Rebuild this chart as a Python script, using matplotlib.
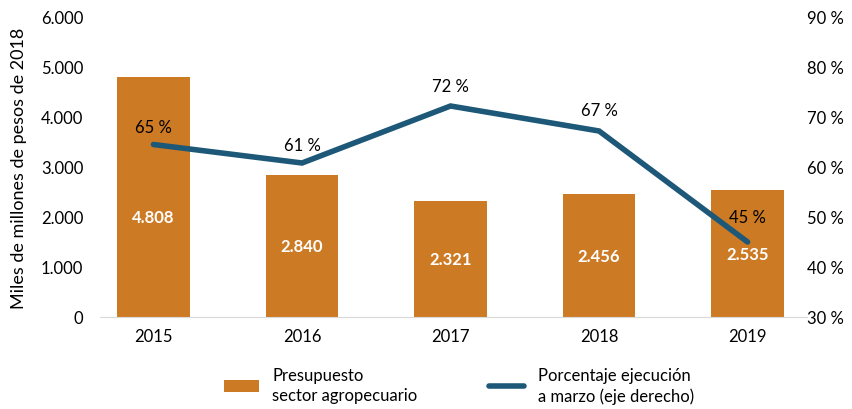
import matplotlib
matplotlib.use("Agg")
import matplotlib.pyplot as plt
from matplotlib.patches import Patch
from matplotlib.lines import Line2D

years = ["2015", "2016", "2017", "2018", "2019"]
presupuesto = [4808, 2840, 2321, 2456, 2535]
ejecucion = [64.5, 60.8, 72.2, 67.2, 45.0]
left_ticks = [0, 1000, 2000, 3000, 4000, 5000, 6000]
right_ticks = [30, 40, 50, 60, 70, 80, 90]

# label offsets above line points (points), layout only
pct_label_offsets = [7, 7, 9, 9, 12]

BAR = "#CD7A25"
LINE = "#1D5878"
plt.rcParams['font.family'] = ['Lato', 'DejaVu Sans']

def fmt_thousands(v):
    return f"{v:,.0f}".replace(",", ".")

fig = plt.figure(figsize=(8.53, 4.10), dpi=100)
ax = fig.add_axes([100/853, 92/410, 707/853, 300/410])
x = list(range(len(years)))
ax.bar(x, presupuesto, width=0.49, color=BAR, zorder=2)
ax.set_xlim(-0.36, 4.40)
ax.set_ylim(0, 6000)
ax.set_yticks(left_ticks)
ax.set_yticklabels([fmt_thousands(v) for v in left_ticks])
ax.set_xticks(x)
ax.set_xticklabels(years)
ax.tick_params(axis='both', length=0, labelsize=12, colors='#000000')
ax.tick_params(axis='x', pad=8)
ax.tick_params(axis='y', pad=12)
for s in ['top', 'right', 'left']:
    ax.spines[s].set_visible(False)
ax.spines['bottom'].set_color('#D9D9D9')
ax.set_ylabel("Miles de millones de pesos de 2018", fontsize=13, labelpad=10)

for xi, v in zip(x, presupuesto):
    ax.text(xi, min(v / 2, 2000), fmt_thousands(v), ha='center', va='center',
            color='white', fontsize=12, fontweight='bold', zorder=4)

ax2 = ax.twinx()
ax2.set_ylim(30, 90)
ax2.set_yticks(right_ticks)
ax2.set_yticklabels([f"{v} %" for v in right_ticks])
ax2.tick_params(axis='y', length=0, labelsize=12, pad=0)
for s in ['top', 'right', 'left', 'bottom']:
    ax2.spines[s].set_visible(False)
ax2.plot(x, ejecucion, color=LINE, lw=4, solid_capstyle='round',
         solid_joinstyle='miter', zorder=3)
for xi, v, off in zip(x, ejecucion, pct_label_offsets):
    ax2.annotate(f"{int(v + 0.5)} %", (xi, v), xytext=(0, off), textcoords='offset points',
                 ha='center', va='bottom', fontsize=12, color='#000000')

handles = [Patch(facecolor=BAR, edgecolor='none'),
           Line2D([0], [0], color=LINE, lw=4, solid_capstyle='round')]
labels = ["Presupuesto\nsector agropecuario", "Porcentaje ejecución\na marzo (eje derecho)"]
leg = fig.legend(handles, labels, loc='center', bbox_to_anchor=(0.538, 0.058),
                 ncol=2, frameon=False, fontsize=12, columnspacing=4.3,
                 handlelength=2.1, handletextpad=0.8)
for t in leg.get_texts():
    t.set_linespacing(1.35)

fig.savefig("out.png", dpi=100)
